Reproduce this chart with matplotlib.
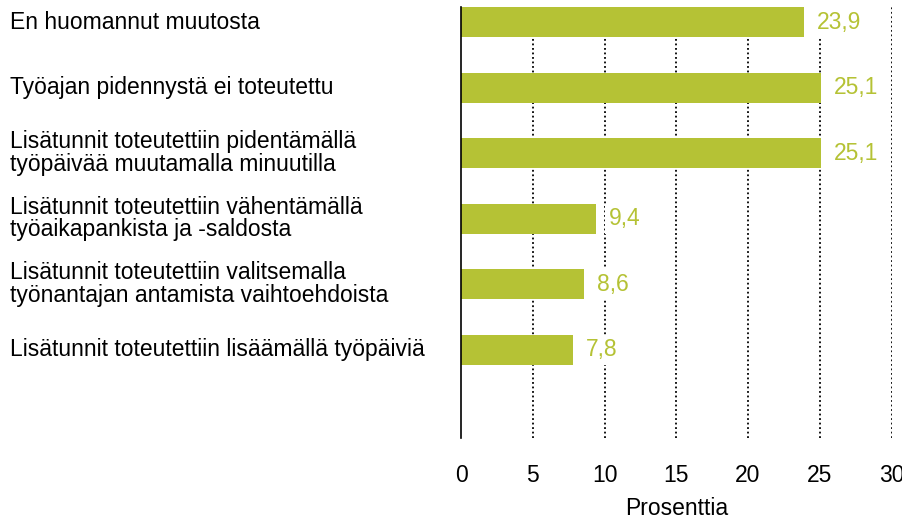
import matplotlib
matplotlib.use("Agg")
import matplotlib.pyplot as plt
from matplotlib.transforms import blended_transform_factory

categories = [
    "En huomannut muutosta",
    "Työajan pidennystä ei toteutettu",
    "Lisätunnit toteutettiin pidentämällä\ntyöpäivää muutamalla minuutilla",
    "Lisätunnit toteutettiin vähentämällä\ntyöaikapankista ja -saldosta",
    "Lisätunnit toteutettiin valitsemalla\ntyönantajan antamista vaihtoehdoista",
    "Lisätunnit toteutettiin lisäämällä työpäiviä",
]
values = [23.9, 25.1, 25.1, 9.4, 8.6, 7.8]
value_labels = ["23,9", "25,1", "25,1", "9,4", "8,6", "7,8"]
xticks = [0, 5, 10, 15, 20, 25, 30]
xlabel = "Prosenttia"

GREEN = "#b5c235"
FONT = "Liberation Sans"
FS = 16.5
plt.rcParams["font.family"] = [FONT, "DejaVu Sans"]

fig = plt.figure(figsize=(9.02, 5.20), dpi=100)
W, H = 902, 520
ax = fig.add_axes([461 / W, 1 - 438 / H, (891.5 - 461) / W, (438 - 7) / H])

pos = list(range(len(categories)))
ax.barh(pos, values, height=0.46, color=GREEN, zorder=2)

ax.set_xlim(0, 30)
ax.set_ylim(6.35, -0.23)

for x in xticks[1:]:
    ax.axvline(x, color="black", linestyle=(0, (1, 1.5)), linewidth=1.3, zorder=1)

for s in ["top", "right", "bottom"]:
    ax.spines[s].set_visible(False)
ax.spines["left"].set_color("black")
ax.spines["left"].set_linewidth(1.2)
ax.spines["left"].set_zorder(3)

ax.set_yticks([])
ax.set_xticks(xticks)
ax.set_xticklabels([str(t) for t in xticks], fontsize=FS)
ax.tick_params(axis="x", length=0, pad=19)
ax.set_xlabel(xlabel, fontsize=FS, labelpad=7)

for p, v, lab in zip(pos, values, value_labels):
    ax.annotate(lab, xy=(v, p), xytext=(9, 0), textcoords="offset points",
                ha="left", va="center", color=GREEN, fontsize=FS, zorder=4,
                bbox=dict(boxstyle="square,pad=0.15", fc="white", ec="none"))

trans = blended_transform_factory(fig.transFigure, ax.transData)
for p, c in zip(pos, categories):
    fig.text(10 / W, p, c, transform=trans, ha="left", va="center",
             fontsize=FS, color="black", linespacing=0.98)

fig.savefig("out.png", dpi=100)
